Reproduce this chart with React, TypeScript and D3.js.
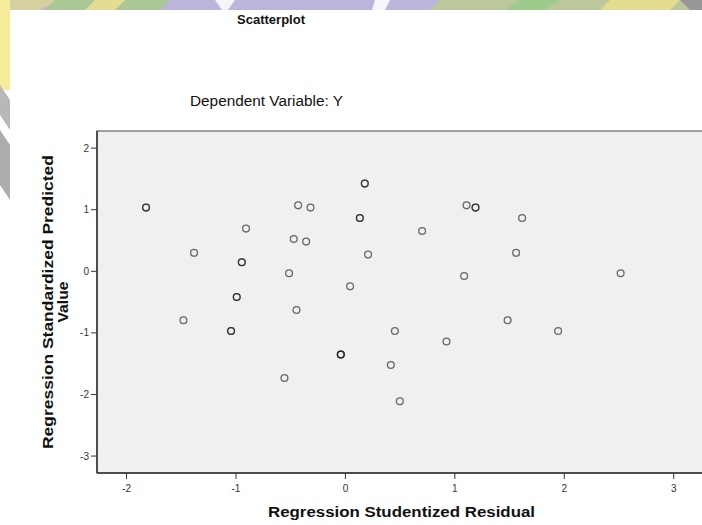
import React from "react";
import * as d3 from "d3";

// Regression Studentized Residual (x) and Regression Standardized Predicted Value (y)
// repeated rows (overlapping cases) appear as darker circles
const residual = [
  -1.822, -1.822, -1.383, -1.48, -0.908, -0.947, -0.947, -0.993, -0.993, -1.045, -1.045,
  -0.432, -0.319, -0.472, -0.359, -0.515, -0.447, -0.557,
  0.177, 0.177, 0.132, 0.132, 0.207, 0.043, -0.042, -0.042, -0.042,
  0.701, 0.452, 0.415, 0.497,
  1.107, 1.189, 1.189, 1.085, 0.924, 1.615, 1.56, 1.482, 1.944, 2.515,
];
const predicted = [
  1.034, 1.034, 0.3, -0.795, 0.693, 0.146, 0.146, -0.417, -0.417, -0.969, -0.969,
  1.071, 1.034, 0.524, 0.482, -0.032, -0.628, -1.732,
  1.424, 1.424, 0.865, 0.865, 0.271, -0.244, -1.352, -1.352, -1.352,
  0.654, -0.969, -1.521, -2.11,
  1.071, 1.034, 1.034, -0.076, -1.141, 0.865, 0.3, -0.795, -0.969, -0.032,
];
const xTicks = [-2, -1, 0, 1, 2, 3];
const yTicks = [2, 1, 0, -1, -2, -3];

const chartTitle = "Scatterplot";
const subTitle = "Dependent Variable: Y";
const xTitle = "Regression Studentized Residual";
const yTitleLines = ["Regression Standardized Predicted", "Value"];

export default function App() {
  const W = 702, H = 525;
  const left = 97, top = 131, bottom = 473, right = 712;
  const x = d3.scaleLinear().domain([-2.27, 3.35]).range([left, right]);
  const y = d3.scaleLinear().domain([-3.275, 2.278]).range([bottom, top]);
  const pts = residual.map((r, i) => ({ r, p: predicted[i] }));
  const font = "'Liberation Sans', Arial, sans-serif";
  const cy = (top + bottom) / 2;

  return (
    <svg width={W} height={H} style={{ position: "absolute", left: 0, top: 0 }} fontFamily={font}>
      {/* watermark remnants */}
      <rect x={0} y={0} width={W} height={H} fill="#ffffff" />
      <rect x={0} y={0} width={W} height={10} fill="#bab5db" />
      <polygon points="0,0 60,0 40,10 0,10" fill="#d6d0a0" />
      <polygon points="55,0 170,0 160,10 45,10" fill="#a9c893" />
      <polygon points="95,0 125,0 115,10 85,10" fill="#e4dc92" />
      <polygon points="440,0 702,0 702,10 430,10" fill="#bcc79a" />
      <polygon points="520,0 560,0 545,10 505,10" fill="#9ccb8c" />
      <polygon points="610,0 680,0 670,10 600,10" fill="#e3db8e" />
      <polygon points="680,0 702,0 702,10 690,10" fill="#979797" />
      <polygon points="215,0 235,0 228,10 222,10" fill="#f5f5fb" />
      <polygon points="375,0 390,0 385,10 372,10" fill="#f5f5fb" />
      <rect x={0} y={0} width={10} height={90} fill="#f4ec98" />
      <polygon points="0,85 10,100 10,130 0,115" fill="#b8b8b8" />
      <polygon points="0,130 10,145 10,200 0,185" fill="#adadad" />
      <rect x={10} y={10} width={W - 10} height={H - 10} fill="#ffffff" />

      {/* plot area */}
      <rect x={left} y={top} width={W - left + 5} height={bottom - top} fill="#f0f0f0" stroke="#666" strokeWidth={1.2} />
      <line x1={left} x2={W} y1={bottom} y2={bottom} stroke="#333" strokeWidth={1.5} />
      <line x1={left} x2={left} y1={top} y2={bottom} stroke="#333" strokeWidth={1.5} />

      {/* y ticks */}
      {yTicks.map((t) => (
        <g key={"y" + t}>
          <line x1={left - 6} x2={left} y1={y(t)} y2={y(t)} stroke="#333" strokeWidth={1} />
          <text x={left - 8} y={y(t)} dy="0.35em" textAnchor="end" fontSize={10} fill="#333">{t}</text>
        </g>
      ))}
      {/* x ticks */}
      {xTicks.map((t) => (
        <g key={"x" + t}>
          <line x1={x(t)} x2={x(t)} y1={bottom} y2={bottom + 6} stroke="#333" strokeWidth={1} />
          <text x={x(t)} y={bottom + 19} textAnchor="middle" fontSize={10} fill="#333">{t}</text>
        </g>
      ))}

      {/* points */}
      {pts.map((d, i) => (
        <circle key={i} cx={x(d.r)} cy={y(d.p)} r={3.4} fill="none" stroke="rgba(20,20,20,0.62)" strokeWidth={1.3} />
      ))}

      {/* titles */}
      <text x={237} y={24} textLength={68} lengthAdjust="spacingAndGlyphs" fontSize={13} fontWeight="bold" fill="#111">{chartTitle}</text>
      <text x={190} y={106} textLength={153} lengthAdjust="spacingAndGlyphs" fontSize={14} fill="#111">{subTitle}</text>
      <text x={268} y={517} textLength={267} lengthAdjust="spacingAndGlyphs" fontSize={14} fontWeight="bold" fill="#111">{xTitle}</text>
      <g transform={`translate(53,${cy}) rotate(-90)`}>
        <text x={-147} y={0} textLength={294} lengthAdjust="spacingAndGlyphs" fontSize={14} fontWeight="bold" fill="#111">{yTitleLines[0]}</text>
        <text x={-20.5} y={15} textLength={41} lengthAdjust="spacingAndGlyphs" fontSize={14} fontWeight="bold" fill="#111">{yTitleLines[1]}</text>
      </g>
    </svg>
  );
}
